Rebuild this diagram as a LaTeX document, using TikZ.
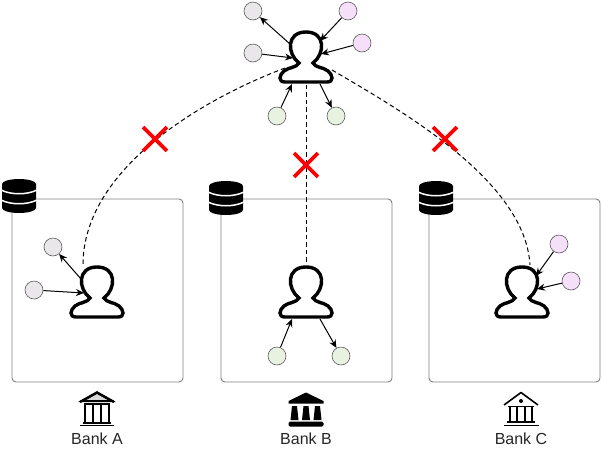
\documentclass[tikz,border=0pt]{standalone}
\usepackage{fontspec}
\setmainfont{Liberation Sans}
\usetikzlibrary{shapes.misc,arrows.meta}
\definecolor{dotgray}{HTML}{E9E7EA}
\definecolor{dotpink}{HTML}{F6DFF8}
\definecolor{dotgreen}{HTML}{E9F1E0}
\tikzset{
    dot/.style={circle, draw=black!65, line width=0.6pt, minimum size=18pt, inner sep=0pt},
    bankbox/.style={draw=black!50, line width=0.9pt, rounded corners=4pt},
    link/.style={-{Stealth[length=8pt,width=7pt]}, line width=1pt},
    nolink/.style={dashed, dash pattern=on 4.5pt off 3pt, line width=1pt},
    nope/.style={cross out, draw=red, line width=3.8pt, minimum size=20pt, inner sep=0pt},
    banklabel/.style={anchor=base, inner sep=0pt, font=\fontsize{16}{16}\selectfont, text=black!85},
    user/.pic={
        \draw[line width=3.4pt, fill=white]
            (-21,25) -- (21,25) .. controls (28,25) and (27,18) .. (22,14)
            .. controls (17,10) and (10,11) .. (7,6)
            .. controls (19,-3) and (20,-25) .. (0,-25)
            .. controls (-20,-25) and (-19,-3) .. (-7,6)
            .. controls (-10,11) and (-17,10) .. (-22,14)
            .. controls (-27,18) and (-28,25) .. (-21,25) -- cycle;
        \node[inner sep=0pt, minimum size=1pt] (-top) at (0,-27) {};
        \node[inner sep=0pt, minimum size=1pt] (-bot) at (0,27) {};
        \coordinate (-nw) at (-16,-13);
        \coordinate (-w) at (-13,1);
        \coordinate (-ne) at (14,-16);
        \coordinate (-e) at (15,-3);
        \coordinate (-sw) at (-14,27);
        \coordinate (-se) at (14,27);
        \coordinate (-sl) at (-21,11);
        \coordinate (-sr) at (26,13);
        \coordinate (-tl) at (-14,-27);
        \coordinate (-tr) at (8,-27);
    },
    dbase/.pic={
        \fill[black] (-17,-12) arc[start angle=180, end angle=360, x radius=17, y radius=5]
            -- (17,12) arc[start angle=0, end angle=180, x radius=17, y radius=5] -- cycle;
        \draw[white, line width=1.5pt] (-18,-6) .. controls (-8,-1) and (8,-1) .. (18,-6);
        \draw[white, line width=1.5pt] (-18,4) .. controls (-8,9) and (8,9) .. (18,4);
    },
    banka/.pic={
        \draw[line width=2pt, fill=black!15, line join=miter] (-15,-9) -- (0,-17.5) -- (15,-9) -- cycle;
        \draw[line width=2.4pt] (-17,-8) -- (0,-17.5) -- (17,-8);
        \draw[line width=2pt] (-13,-6) -- (13,-6);
        \foreach \i in {-12,-4,4,12} {\draw[line width=2pt] (\i,-6) -- (\i,12);}
        \draw[line width=2pt] (-14,13) -- (14,13);
        \draw[line width=1.2pt] (-17,15.5) -- (17,15.5);
    },
    bankb/.pic={
        \fill (-17.5,-9) -- (0,-17.5) -- (17.5,-9) -- (17.5,-6.5) -- (-17.5,-6.5) -- cycle;
        \foreach \i in {-11.5,0,11.5} {
            \fill (\i-2.5,-4) -- (\i+2.5,-4) -- (\i+4,10) -- (\i-4,10) -- cycle;
        }
        \fill[rounded corners=1.5pt] (-17.5,11.5) rectangle (17.5,16.5);
    },
    bankc/.pic={
        \draw[line width=1.6pt, line join=round] (-17,-5) -- (0,-17.5) -- (17,-5);
        \draw[line width=1.4pt] (-13,-3.5) -- (13,-3.5);
        \fill (0,-9) circle (2pt);
        \foreach \i in {-11,-4,4,11} {\draw[line width=1.4pt] (\i,-3) -- (\i,12);}
        \draw[line width=1.4pt] (-14,12) -- (14,12);
        \draw[line width=1.4pt] (-17.5,15.5) -- (17.5,15.5);
    }
}
\begin{document}
\begin{tikzpicture}[x=1pt, y=-1pt]
    \useasboundingbox (0,0) rectangle (602,448);

    \node[bankbox, minimum width=171pt, minimum height=183pt] (boxA) at (97.5,290.5) {};
    \node[bankbox, minimum width=171pt, minimum height=183pt] (boxB) at (306.5,290.5) {};
    \node[bankbox, minimum width=171pt, minimum height=183pt] (boxC) at (514.5,290.5) {};

    \pic at (19,196) {dbase};
    \pic at (226,198) {dbase};
    \pic at (436,198) {dbase};

    \pic (userT) at (306,57) {user};
    \pic (userA) at (97,292) {user};
    \pic (userB) at (306,292) {user};
    \pic (userC) at (522,292) {user};

    \node[dot, fill=dotgray] (t1) at (253,11) {};
    \node[dot, fill=dotgray] (t2) at (253,53) {};
    \node[dot, fill=dotpink] (t3) at (348,11) {};
    \node[dot, fill=dotpink] (t4) at (362,43) {};
    \node[dot, fill=dotgreen] (t5) at (277,116) {};
    \node[dot, fill=dotgreen] (t6) at (336,116) {};
    \node[dot, fill=dotgray] (a1) at (53,247) {};
    \node[dot, fill=dotgray] (a2) at (34,290) {};
    \node[dot, fill=dotgreen] (b1) at (277,356) {};
    \node[dot, fill=dotgreen] (b2) at (341,356) {};
    \node[dot, fill=dotpink] (c1) at (559,244) {};
    \node[dot, fill=dotpink] (c2) at (571,281) {};

    \draw[link] (userT-nw) -- (t1);
    \draw[link] (t2) -- (userT-w);
    \draw[link] (t3) -- (userT-ne);
    \draw[link] (t4) -- (userT-e);
    \draw[link] (t5) -- (userT-sw);
    \draw[link] (userT-se) -- (t6);
    \draw[link] (userA-nw) -- (a1);
    \draw[link] (a2) -- (userA-w);
    \draw[link] (b1) -- (userB-sw);
    \draw[link] (userB-se) -- (b2);
    \draw[link] (c1) -- (userC-ne);
    \draw[link] (c2) -- (userC-e);

    \draw[nolink] (userT-sl) .. controls (200,100) and (83,170) .. (userA-tl);
    \draw[nolink] (userT-bot) -- (userB-top);
    \draw[nolink] (userT-sr) .. controls (400,110) and (525,180) .. (userC-tr);

    \node[nope] (xA) at (155,139) {};
    \node[nope] (xB) at (306,165) {};
    \node[nope] (xC) at (445,139) {};

    \pic at (97,410) {banka};
    \pic at (306,410) {bankb};
    \pic at (521,410) {bankc};

    \node[banklabel] (labelA) at (97,444.5) {Bank A};
    \node[banklabel] (labelB) at (306,444.5) {Bank B};
    \node[banklabel] (labelC) at (521,444.5) {Bank C};
\end{tikzpicture}
\end{document}
